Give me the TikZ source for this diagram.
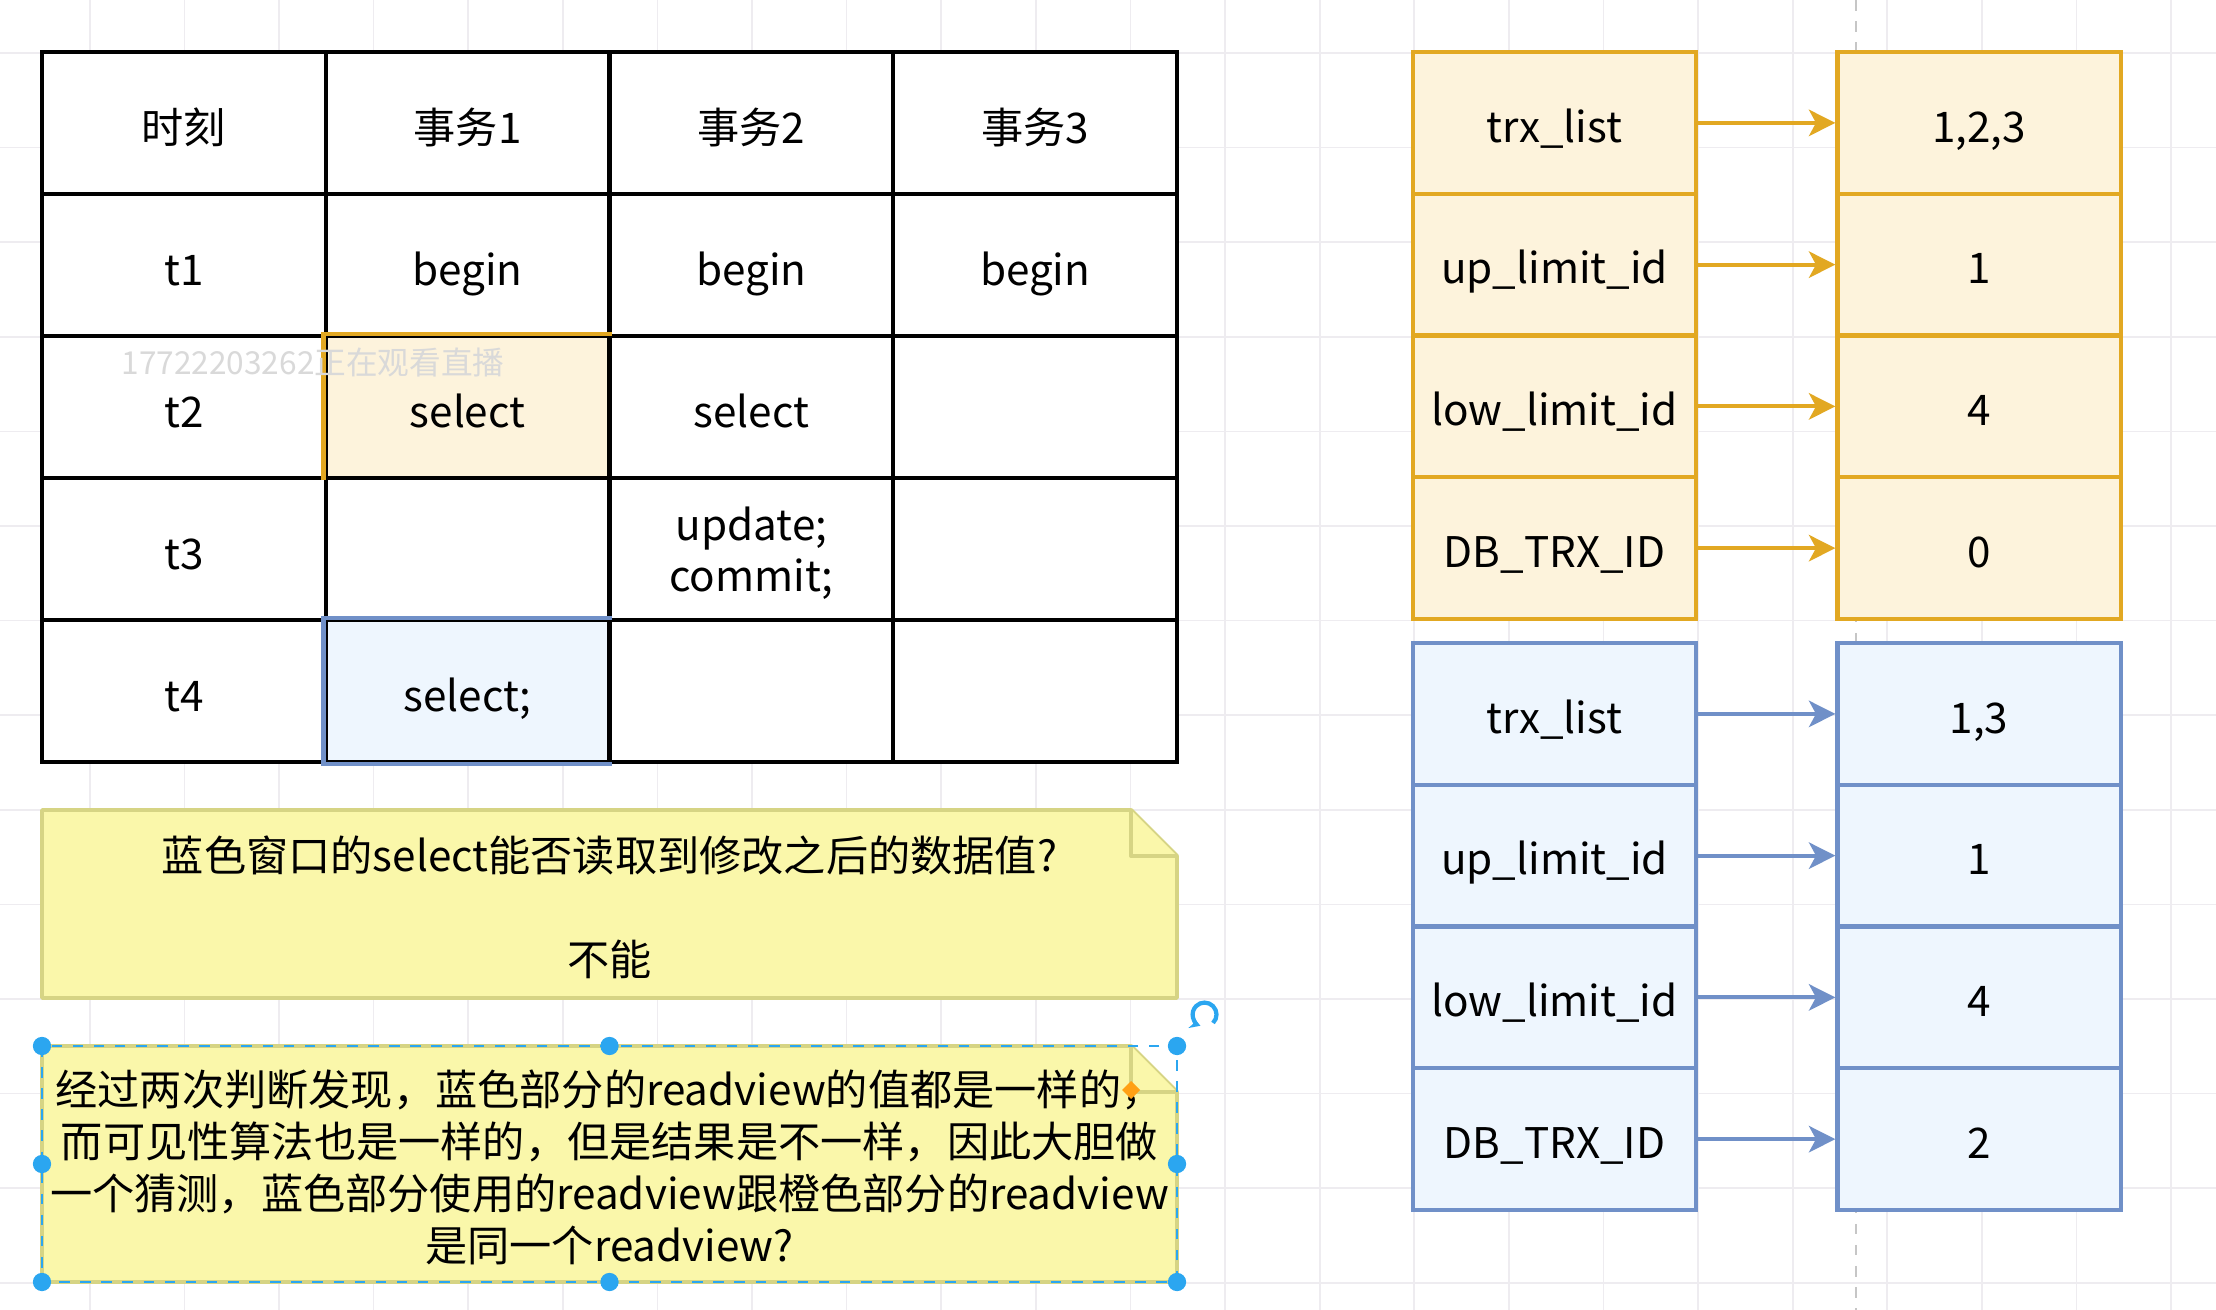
\documentclass[tikz,border=0pt]{standalone}
\usepackage{fontspec}
\setmainfont{Noto Sans CJK SC}
\usetikzlibrary{arrows.meta}
\definecolor{ocolor}{RGB}{226,168,34}
\definecolor{ofill}{RGB}{253,243,220}
\definecolor{bcolor}{RGB}{112,144,200}
\definecolor{bfill}{RGB}{238,246,254}
\definecolor{nfill}{RGB}{250,247,170}
\definecolor{ncolor}{RGB}{214,212,132}
\definecolor{gridcolor}{RGB}{238,236,240}
\definecolor{selcolor}{RGB}{43,166,240}
\definecolor{knob}{RGB}{255,160,20}
\tikzstyle{gridline}=[
        draw=gridcolor,
        line width=0.5pt
]
\tikzstyle{cell}=[
        draw=black,
        fill=white,
        line width=1.2pt,
        minimum width=2.8375cm,
        minimum height=1.42cm,
        inner sep=0pt,
        align=center,
        text height=11.6pt,
        text depth=0pt,
        font=\fontsize{12pt}{14.5pt}\selectfont
]
\tikzstyle{obox}=[
        draw=ocolor,
        fill=ofill,
        line width=1.2pt,
        minimum width=2.83cm,
        minimum height=1.4175cm,
        inner sep=0pt,
        text height=11pt,
        text depth=0pt,
        font=\fontsize{12pt}{14.5pt}\selectfont
]
\tikzstyle{bbox}=[
        obox,
        draw=bcolor,
        fill=bfill
]
\tikzstyle{oarrow}=[
        draw=ocolor,
        line width=1.1pt,
        -{Stealth[length=7.5pt,width=7.5pt,inset=2pt]}
]
\tikzstyle{barrow}=[
        oarrow,
        draw=bcolor
]
\tikzstyle{notebox}=[
        draw=ncolor,
        fill=nfill,
        line width=1.1pt,
        line join=round
]
\tikzstyle{notetext}=[
        align=center,
        inner sep=0pt,
        font=\fontsize{12pt}{14.8pt}\selectfont
]
\tikzstyle{selbox}=[
        draw=selcolor,
        line width=0.8pt,
        dashed
]

\begin{document}
\begin{tikzpicture}[x=0.01cm, y=-0.01cm]
        \useasboundingbox[fill=white] (0,0) rectangle (2216,1310);

        % background grid
        \foreach \i in {0,...,22} {
            \draw[gridline] (89.8+94.6*\i,0) -- (89.8+94.6*\i,1310);
        }
        \foreach \j in {0,...,13} {
            \draw[gridline] (0,53+94.6*\j) -- (2216,53+94.6*\j);
        }
        \draw[gridline, draw=gray!45, dashed] (1856,0) -- (1856,1310);

        % table
        \node[cell] (h0) at (183.9,123) {时刻};
        \node[cell] (h1) at (467.6,123) {事务1};
        \node[cell] (h2) at (751.4,123) {事务2};
        \node[cell] (h3) at (1035.1,123) {事务3};

        \node[cell] (a0) at (183.9,265) {t1};
        \node[cell] (a1) at (467.6,265) {begin};
        \node[cell] (a2) at (751.4,265) {begin};
        \node[cell] (a3) at (1035.1,265) {begin};

        \node[cell] (b0) at (183.9,407) {t2};
        \node[cell, fill=ofill] (b1) at (467.6,407) {select};
        \node[cell] (b2) at (751.4,407) {select};
        \node[cell] (b3) at (1035.1,407) {};

        \node[cell] (c0) at (183.9,549) {t3};
        \node[cell] (c1) at (467.6,549) {};
        \node[cell, text height={}, text depth={}] (c2) at (751.4,549) {\rule{0pt}{11.9pt}update;\\commit;};
        \node[cell] (c3) at (1035.1,549) {};

        \node[cell] (d0) at (183.9,691) {t4};
        \node[cell, fill=bfill] (d1) at (467.6,691) {select;};
        \node[cell] (d2) at (751.4,691) {};
        \node[cell] (d3) at (1035.1,691) {};

        \draw[ocolor, line width=1.2pt] (b1.south west) -- (b1.north west) -- (b1.north east);
        \draw[bcolor, line width=1.2pt] (d1.north east) -- (d1.north west) -- (d1.south west) -- (d1.south east);

        \node[text=gray!30, font=\fontsize{9pt}{10pt}\selectfont] (wm) at (313,362) {17722203262正在观看直播};

        % readview boxes
        \foreach \k/\lab/\val in {0/trx\_list/{1,2,3}, 1/up\_limit\_id/1, 2/low\_limit\_id/4, 3/DB\_TRX\_ID/0} {
            \node[obox] (ol\k) at (1554.5,122.9+141.75*\k) {\lab};
            \node[obox] (or\k) at (1979,122.9+141.75*\k) {\val};
            \draw[oarrow] (ol\k) -- (or\k);
        }
        \foreach \k/\lab/\val in {0/trx\_list/{1,3}, 1/up\_limit\_id/1, 2/low\_limit\_id/4, 3/DB\_TRX\_ID/2} {
            \node[bbox] (bl\k) at (1554.5,713.9+141.75*\k) {\lab};
            \node[bbox] (br\k) at (1979,713.9+141.75*\k) {\val};
            \draw[barrow] (bl\k) -- (br\k);
        }

        % notes
        \draw[notebox] (42,810) -- (1131,810) -- (1177,856) -- (1177,998) -- (42,998) -- cycle;
        \draw[notebox] (1131,810) -- (1131,856) -- (1177,856);
        \node[notetext] (q1) at (609.5,907) {蓝色窗口的select能否读取到修改之后的数据值?\\[14.8pt]不能};

        \draw[notebox] (42,1046) -- (1131,1046) -- (1177,1092) -- (1177,1282) -- (42,1282) -- cycle;
        \draw[notebox] (1131,1046) -- (1131,1092) -- (1177,1092);
        \node[notetext] (q2) at (609.5,1167) {经过两次判断发现，蓝色部分的readview的值都是一样的，\\而可见性算法也是一样的，但是结果是不一样，因此大胆做\\一个猜测，蓝色部分使用的readview跟橙色部分的readview\\是同一个readview?};

        % selection handles
        \draw[selbox] (42,1046) rectangle (1177,1282);
        \foreach \p in {(42,1046),(609.5,1046),(1177,1046),(42,1164),(1177,1164),(42,1282),(609.5,1282),(1177,1282)} {
            \fill[selcolor] \p circle (2.6pt);
        }
        \fill[knob] (1131,1081) -- (1140,1090) -- (1131,1099) -- (1122,1090) -- cycle;
        \draw[selcolor, line width=1.2pt, -{Stealth[length=3pt,width=3.5pt]}] (1213,1023) arc[start angle=-45, end angle=250, radius=3.4pt];
\end{tikzpicture}
\end{document}
